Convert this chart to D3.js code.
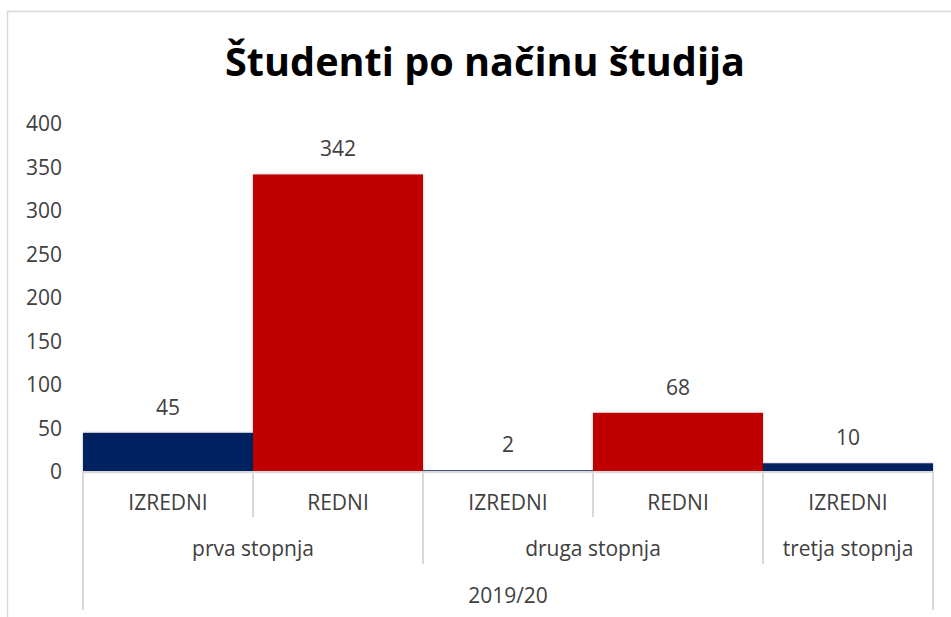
<!doctype html>
<html>
<head>
<meta charset="utf-8"/>
<title>Študenti po načinu študija</title>
<script src="https://d3js.org/d3.v7.min.js"></script>
<style>
body { margin: 0; background: #fff; }
text { font-family: "Open Sans", "Noto Sans", sans-serif; }
</style>
</head>
<body>
<svg id="chart"></svg>
<script>
// data
const categories = ['IZREDNI', 'REDNI', 'IZREDNI', 'REDNI', 'IZREDNI'];
const values = [45, 342, 2, 68, 10];
const groups = ['prva stopnja', 'druga stopnja', 'tretja stopnja'];
const groupSizes = [2, 2, 1];
const year = '2019/20';
const yTicks = [0, 50, 100, 150, 200, 250, 300, 350, 400];

const W = 951, H = 617;
const left = 83, right = 933, y0 = 472, yTop = 124;
const colors = { IZREDNI: '#002060', REDNI: '#c00000' };
const gray = '#d9d9d9', txt = '#404040';

const svg = d3.select('#chart').attr('width', W).attr('height', H);

// chart frame (runs off the right and bottom of the window)
svg.append('rect')
    .attr('x', 7.5).attr('y', 11.5)
    .attr('width', W + 20).attr('height', H + 20)
    .attr('fill', 'none').attr('stroke', gray).attr('stroke-width', 1.5);

const defs = svg.append('defs');
defs.append('filter').attr('id', 'shadow')
    .attr('x', '-5%').attr('y', '-5%').attr('width', '110%').attr('height', '110%')
    .append('feDropShadow')
    .attr('dx', 0).attr('dy', 0).attr('stdDeviation', 1.5)
    .attr('flood-color', '#000').attr('flood-opacity', 0.25);

// title
svg.append('text')
    .attr('x', 485).attr('y', 76)
    .attr('text-anchor', 'middle')
    .attr('font-size', 39).attr('font-weight', 'bold')
    .attr('fill', '#000')
    .attr('textLength', 520).attr('lengthAdjust', 'spacingAndGlyphs')
    .text('Študenti po načinu študija');

const x = d3.scaleBand().domain(d3.range(values.length)).range([left, right]).padding(0);
const y = d3.scaleLinear().domain([0, 400]).range([y0, yTop]);

// y axis labels
const yAxis = d3.axisLeft(y).tickValues(yTicks).tickSize(0).tickPadding(0);
const ya = svg.append('g').attr('transform', 'translate(62,0)').call(yAxis);
ya.select('.domain').remove();
ya.selectAll('text')
    .attr('font-size', 21).attr('fill', txt)
    .style('font-family', '"Open Sans", sans-serif');

// bars
svg.append('g').selectAll('rect')
    .data(values)
    .join('rect')
    .attr('x', (d, i) => x(i))
    .attr('width', x.bandwidth())
    .attr('y', d => y(d))
    .attr('height', d => y0 - y(d))
    .attr('fill', (d, i) => colors[categories[i]])
    .attr('filter', 'url(#shadow)');

// data labels
svg.append('g').selectAll('text')
    .data(values)
    .join('text')
    .attr('x', (d, i) => x(i) + x.bandwidth() / 2)
    .attr('y', d => y(d) - 18)
    .attr('text-anchor', 'middle')
    .attr('font-size', 21).attr('fill', txt)
    .text(d => d);

// category axis line
svg.append('line')
    .attr('x1', left).attr('x2', right)
    .attr('y1', y0).attr('y2', y0)
    .attr('stroke', gray).attr('stroke-width', 2);

const ax = svg.append('g').attr('stroke', gray).attr('stroke-width', 2);
function vline(xx, y2) {
    ax.append('line').attr('x1', xx).attr('x2', xx).attr('y1', y0).attr('y2', y2);
}

// level 1: categories
categories.forEach((c, i) => {
    svg.append('text')
        .attr('x', x(i) + x.bandwidth() / 2).attr('y', 510)
        .attr('text-anchor', 'middle')
        .attr('font-size', 21).attr('fill', txt)
        .text(c);
});

// separators between categories inside a group
let idx = 0;
const groupEdges = [idx];
groupSizes.forEach(n => {
    for (let k = 1; k < n; k++) vline(x(idx + k), 517);
    idx += n;
    groupEdges.push(idx);
});

// level 2: groups
groups.forEach((g, gi) => {
    const a = x(groupEdges[gi]);
    const b = groupEdges[gi + 1] < values.length ? x(groupEdges[gi + 1]) : right;
    svg.append('text')
        .attr('x', (a + b) / 2).attr('y', 556)
        .attr('text-anchor', 'middle')
        .attr('font-size', 21).attr('fill', txt)
        .text(g);
});
groupEdges.slice(1, -1).forEach(e => vline(x(e), 564));

// level 3: year
vline(left, 610);
vline(right, 610);
svg.append('text')
    .attr('x', (left + right) / 2).attr('y', 603)
    .attr('text-anchor', 'middle')
    .attr('font-size', 21).attr('fill', txt)
    .text(year);
</script>
</body>
</html>
